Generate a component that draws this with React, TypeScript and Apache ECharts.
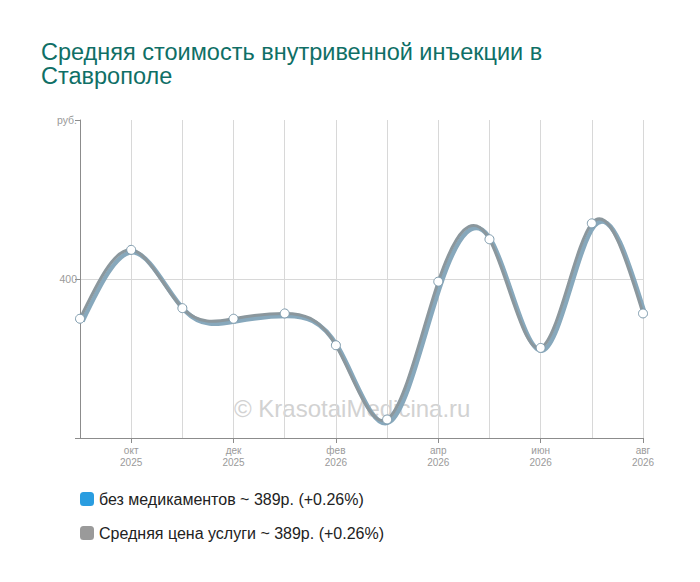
import { useEffect, useRef } from 'react';
import * as echarts from 'echarts';

const MONTHS = [
  'сен\n2025', 'окт\n2025', 'ноя\n2025', 'дек\n2025', 'янв\n2026', 'фев\n2026',
  'мар\n2026', 'апр\n2026', 'май\n2026', 'июн\n2026', 'июл\n2026', 'авг\n2026',
];

// руб.
const NO_DRUGS = [385, 411, 389, 385, 387, 375, 347, 399, 415, 374, 421, 387];
const AVG_PRICE = [385, 411, 389, 385, 387, 375, 347, 399, 415, 374, 421, 387];

const LEGEND_TEXT: Record<string, string> = {
  'без медикаментов': 'без медикаментов ~ 389р. (+0.26%)',
  'Средняя цена услуги': 'Средняя цена услуги ~ 389р. (+0.26%)',
};

const FONT = 'Arial, "Liberation Sans", sans-serif';

// natural cubic spline through the projected points, as bezier segments
function splinePath(pts: number[][], dx: number, dy: number) {
  const n = pts.length - 1;
  const x = pts.map((p) => p[0] + dx);
  const y = pts.map((p) => p[1] + dy);
  const h: number[] = [];
  for (let i = 0; i < n; i++) h.push(x[i + 1] - x[i]);

  // tridiagonal solve for second derivatives, M[0] = M[n] = 0
  const M = new Array(n + 1).fill(0);
  const a: number[] = [], b: number[] = [], c: number[] = [], r: number[] = [];
  for (let i = 1; i < n; i++) {
    a.push(h[i - 1]);
    b.push(2 * (h[i - 1] + h[i]));
    c.push(h[i]);
    r.push(6 * ((y[i + 1] - y[i]) / h[i] - (y[i] - y[i - 1]) / h[i - 1]));
  }
  const m = r.length;
  for (let i = 1; i < m; i++) {
    const w = a[i] / b[i - 1];
    b[i] -= w * c[i - 1];
    r[i] -= w * r[i - 1];
  }
  if (m > 0) M[m] = r[m - 1] / b[m - 1];
  for (let i = m - 2; i >= 0; i--) M[i + 1] = (r[i] - c[i] * M[i + 2]) / b[i];

  let d = `M${x[0]},${y[0]}`;
  for (let i = 0; i < n; i++) {
    const slope = (y[i + 1] - y[i]) / h[i];
    const s0 = slope - (h[i] * (2 * M[i] + M[i + 1])) / 6;
    const s1 = slope + (h[i] * (M[i] + 2 * M[i + 1])) / 6;
    const c1x = x[i] + h[i] / 3;
    const c1y = y[i] + (s0 * h[i]) / 3;
    const c2x = x[i + 1] - h[i] / 3;
    const c2y = y[i + 1] - (s1 * h[i]) / 3;
    d += ` C${c1x},${c1y} ${c2x},${c2y} ${x[i + 1]},${y[i + 1]}`;
  }
  return d;
}

function curveSeries(name: string, values: number[], color: string, width: number, dx: number, dy: number, z: number) {
  return {
    name,
    type: 'custom',
    z,
    data: [[0, values[0]]],
    itemStyle: { color },
    renderItem: (_params: any, api: any) => {
      const pts = values.map((v, i) => api.coord([i, v]));
      return {
        type: 'path',
        shape: { pathData: splinePath(pts, dx, dy) },
        style: { fill: 'none', stroke: color, lineWidth: width },
      };
    },
  };
}

export default function App() {
  const chartRef = useRef<HTMLDivElement>(null);

  useEffect(() => {
    if (!chartRef.current) return;
    const chart = echarts.init(chartRef.current, undefined, { renderer: 'svg' });

    const oddOnly = (index: number) => index % 2 === 1;

    const option: echarts.EChartsOption = {
      animation: false,
      textStyle: { fontFamily: FONT },
      title: {
        text: 'Средняя стоимость внутривенной инъекции в\nСтаврополе',
        left: 41,
        top: 40,
        padding: 0,
        textStyle: {
          fontFamily: FONT,
          fontSize: 23.5,
          fontWeight: 'normal',
          color: '#0f6f66',
          lineHeight: 24,
        },
      },
      graphic: [
        {
          type: 'text',
          left: 234,
          top: 396,
          z: 0,
          style: {
            text: '© KrasotaiMedicina.ru',
            fontFamily: FONT,
            fontSize: 24,
            fill: '#d2d2d2',
          },
        },
      ],
      legend: {
        orient: 'vertical',
        left: 80,
        top: 491,
        padding: 0,
        itemWidth: 14,
        itemHeight: 14,
        itemGap: 18,
        icon: 'roundRect',
        textStyle: { fontFamily: FONT, fontSize: 16, color: '#222' },
        formatter: (name: string) => LEGEND_TEXT[name] ?? name,
        data: [
          { name: 'без медикаментов', itemStyle: { color: '#2a9de0', borderWidth: 0 } },
          { name: 'Средняя цена услуги', itemStyle: { color: '#9a9a9a', borderWidth: 0 } },
        ],
      },
      grid: {
        left: 80,
        right: 57,
        top: 120,
        bottom: 144,
      },
      xAxis: {
        type: 'category',
        data: MONTHS,
        boundaryGap: false,
        axisLine: { lineStyle: { color: '#8c8c8c' } },
        axisTick: { interval: oddOnly, length: 5, lineStyle: { color: '#8c8c8c' } },
        axisLabel: {
          interval: oddOnly,
          color: '#9a9a9a',
          fontSize: 10,
          lineHeight: 12,
          margin: 6,
        },
        splitLine: { show: true, interval: 0, lineStyle: { color: '#d8d8d8' } },
      },
      yAxis: {
        type: 'value',
        min: 340,
        max: 460,
        interval: 60,
        axisLine: { show: true, lineStyle: { color: '#8c8c8c' } },
        axisTick: { show: true, length: 5, lineStyle: { color: '#8c8c8c' } },
        axisLabel: {
          color: '#9a9a9a',
          fontSize: 10.5,
          margin: 3,
          formatter: (v: number) => (v === 460 ? 'руб.' : v === 400 ? '400' : ''),
        },
        splitLine: {
          show: true,
          lineStyle: { color: ['transparent', '#d8d8d8', 'transparent'] },
        },
      },
      series: [
        curveSeries('без медикаментов', NO_DRUGS, '#87a8bc', 4.5, 2.5, 2.5, 2),
        curveSeries('Средняя цена услуги', AVG_PRICE, '#8b979d', 3, 0, 0, 3),
        {
          name: 'points',
          type: 'line',
          data: AVG_PRICE,
          symbol: 'circle',
          symbolSize: 9,
          lineStyle: { width: 0, opacity: 0 },
          itemStyle: { color: '#ffffff', borderColor: '#7d9aac', borderWidth: 1 },
          z: 4,
        },
      ],
    };

    chart.setOption(option as any);
    return () => chart.dispose();
  }, []);

  return (
    <div
      ref={chartRef}
      style={{ position: 'fixed', left: 0, top: 0, width: 700, height: 582, background: '#fff' }}
    />
  );
}
